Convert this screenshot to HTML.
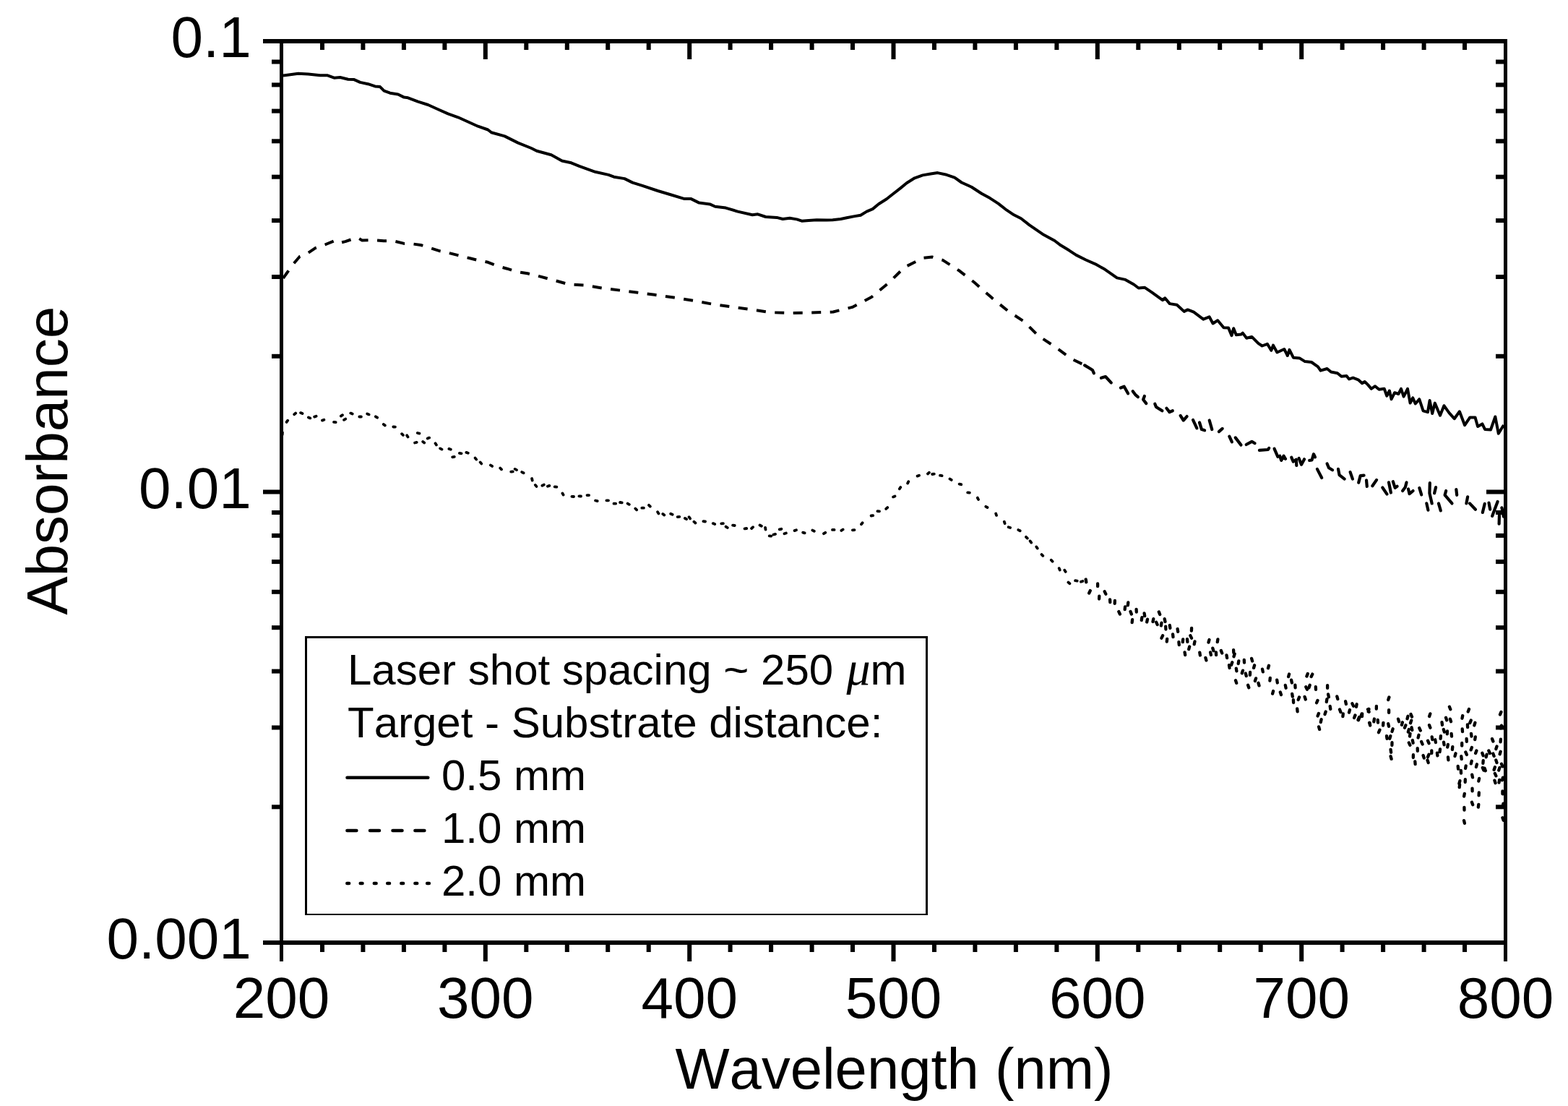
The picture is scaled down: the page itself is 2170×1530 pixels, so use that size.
<!DOCTYPE html>
<html><head><meta charset="utf-8"><title>Absorbance vs Wavelength</title><style>
html,body{margin:0;padding:0;background:#fff;width:2170px;height:1530px;overflow:hidden}
svg{display:block}
text{font-family:"Liberation Sans",Arial,sans-serif;fill:#000;font-kerning:none;font-feature-settings:"kern" 0}
.mu{font-family:"Liberation Serif","Times New Roman",serif;font-style:italic}
</style></head><body>
<svg width="2170" height="1530" viewBox="0 0 2170 1530">
<rect x="0" y="0" width="2170" height="1530" fill="#fff"/>
<g fill="#000">
<rect x="364.0" y="54.0" width="1722.0" height="6.0"/>
<rect x="364.0" y="1301.0" width="1722.0" height="6.0"/>
<rect x="387.0" y="54.0" width="5.0" height="1276.0"/>
<rect x="2081.0" y="54.0" width="5.0" height="1276.0"/>
<rect x="376.0" y="489.8" width="11.0" height="6.0"/>
<rect x="2070.0" y="489.8" width="11.0" height="6.0"/>
<rect x="376.0" y="380.0" width="11.0" height="6.0"/>
<rect x="2070.0" y="380.0" width="11.0" height="6.0"/>
<rect x="376.0" y="302.1" width="11.0" height="6.0"/>
<rect x="2070.0" y="302.1" width="11.0" height="6.0"/>
<rect x="376.0" y="241.7" width="11.0" height="6.0"/>
<rect x="2070.0" y="241.7" width="11.0" height="6.0"/>
<rect x="376.0" y="192.3" width="11.0" height="6.0"/>
<rect x="2070.0" y="192.3" width="11.0" height="6.0"/>
<rect x="376.0" y="150.6" width="11.0" height="6.0"/>
<rect x="2070.0" y="150.6" width="11.0" height="6.0"/>
<rect x="376.0" y="114.4" width="11.0" height="6.0"/>
<rect x="2070.0" y="114.4" width="11.0" height="6.0"/>
<rect x="376.0" y="82.5" width="11.0" height="6.0"/>
<rect x="2070.0" y="82.5" width="11.0" height="6.0"/>
<rect x="376.0" y="1113.3" width="11.0" height="6.0"/>
<rect x="2070.0" y="1113.3" width="11.0" height="6.0"/>
<rect x="376.0" y="1003.5" width="11.0" height="6.0"/>
<rect x="2070.0" y="1003.5" width="11.0" height="6.0"/>
<rect x="376.0" y="925.6" width="11.0" height="6.0"/>
<rect x="2070.0" y="925.6" width="11.0" height="6.0"/>
<rect x="376.0" y="865.2" width="11.0" height="6.0"/>
<rect x="2070.0" y="865.2" width="11.0" height="6.0"/>
<rect x="376.0" y="815.8" width="11.0" height="6.0"/>
<rect x="2070.0" y="815.8" width="11.0" height="6.0"/>
<rect x="376.0" y="774.1" width="11.0" height="6.0"/>
<rect x="2070.0" y="774.1" width="11.0" height="6.0"/>
<rect x="376.0" y="737.9" width="11.0" height="6.0"/>
<rect x="2070.0" y="737.9" width="11.0" height="6.0"/>
<rect x="376.0" y="706.0" width="11.0" height="6.0"/>
<rect x="2070.0" y="706.0" width="11.0" height="6.0"/>
<rect x="364.0" y="677.5" width="23.0" height="6.0"/>
<rect x="2057.0" y="677.5" width="24.0" height="6.0"/>
<rect x="443.0" y="60.0" width="6.0" height="9.0"/>
<rect x="443.0" y="1307.0" width="6.0" height="10.0"/>
<rect x="499.4" y="60.0" width="6.0" height="9.0"/>
<rect x="499.4" y="1307.0" width="6.0" height="10.0"/>
<rect x="555.9" y="60.0" width="6.0" height="9.0"/>
<rect x="555.9" y="1307.0" width="6.0" height="10.0"/>
<rect x="612.4" y="60.0" width="6.0" height="9.0"/>
<rect x="612.4" y="1307.0" width="6.0" height="10.0"/>
<rect x="668.8" y="60.0" width="6.0" height="22.0"/>
<rect x="668.8" y="1307.0" width="6.0" height="23.0"/>
<rect x="725.3" y="60.0" width="6.0" height="9.0"/>
<rect x="725.3" y="1307.0" width="6.0" height="10.0"/>
<rect x="781.8" y="60.0" width="6.0" height="9.0"/>
<rect x="781.8" y="1307.0" width="6.0" height="10.0"/>
<rect x="838.2" y="60.0" width="6.0" height="9.0"/>
<rect x="838.2" y="1307.0" width="6.0" height="10.0"/>
<rect x="894.7" y="60.0" width="6.0" height="9.0"/>
<rect x="894.7" y="1307.0" width="6.0" height="10.0"/>
<rect x="951.2" y="60.0" width="6.0" height="22.0"/>
<rect x="951.2" y="1307.0" width="6.0" height="23.0"/>
<rect x="1007.6" y="60.0" width="6.0" height="9.0"/>
<rect x="1007.6" y="1307.0" width="6.0" height="10.0"/>
<rect x="1064.1" y="60.0" width="6.0" height="9.0"/>
<rect x="1064.1" y="1307.0" width="6.0" height="10.0"/>
<rect x="1120.6" y="60.0" width="6.0" height="9.0"/>
<rect x="1120.6" y="1307.0" width="6.0" height="10.0"/>
<rect x="1177.0" y="60.0" width="6.0" height="9.0"/>
<rect x="1177.0" y="1307.0" width="6.0" height="10.0"/>
<rect x="1233.5" y="60.0" width="6.0" height="22.0"/>
<rect x="1233.5" y="1307.0" width="6.0" height="23.0"/>
<rect x="1290.0" y="60.0" width="6.0" height="9.0"/>
<rect x="1290.0" y="1307.0" width="6.0" height="10.0"/>
<rect x="1346.4" y="60.0" width="6.0" height="9.0"/>
<rect x="1346.4" y="1307.0" width="6.0" height="10.0"/>
<rect x="1402.9" y="60.0" width="6.0" height="9.0"/>
<rect x="1402.9" y="1307.0" width="6.0" height="10.0"/>
<rect x="1459.4" y="60.0" width="6.0" height="9.0"/>
<rect x="1459.4" y="1307.0" width="6.0" height="10.0"/>
<rect x="1515.8" y="60.0" width="6.0" height="22.0"/>
<rect x="1515.8" y="1307.0" width="6.0" height="23.0"/>
<rect x="1572.3" y="60.0" width="6.0" height="9.0"/>
<rect x="1572.3" y="1307.0" width="6.0" height="10.0"/>
<rect x="1628.8" y="60.0" width="6.0" height="9.0"/>
<rect x="1628.8" y="1307.0" width="6.0" height="10.0"/>
<rect x="1685.2" y="60.0" width="6.0" height="9.0"/>
<rect x="1685.2" y="1307.0" width="6.0" height="10.0"/>
<rect x="1741.7" y="60.0" width="6.0" height="9.0"/>
<rect x="1741.7" y="1307.0" width="6.0" height="10.0"/>
<rect x="1798.2" y="60.0" width="6.0" height="22.0"/>
<rect x="1798.2" y="1307.0" width="6.0" height="23.0"/>
<rect x="1854.6" y="60.0" width="6.0" height="9.0"/>
<rect x="1854.6" y="1307.0" width="6.0" height="10.0"/>
<rect x="1911.1" y="60.0" width="6.0" height="9.0"/>
<rect x="1911.1" y="1307.0" width="6.0" height="10.0"/>
<rect x="1967.6" y="60.0" width="6.0" height="9.0"/>
<rect x="1967.6" y="1307.0" width="6.0" height="10.0"/>
<rect x="2024.0" y="60.0" width="6.0" height="9.0"/>
<rect x="2024.0" y="1307.0" width="6.0" height="10.0"/>
</g>
<g font-size="80">
<text x="347.8" y="78.6" text-anchor="end">0.1</text>
<text x="347.8" y="703.0" text-anchor="end">0.01</text>
<text x="347.8" y="1326.4" text-anchor="end">0.001</text>
<text x="389.5" y="1407.9" text-anchor="middle">200</text>
<text x="671.8" y="1407.9" text-anchor="middle">300</text>
<text x="954.2" y="1407.9" text-anchor="middle">400</text>
<text x="1236.5" y="1407.9" text-anchor="middle">500</text>
<text x="1518.8" y="1407.9" text-anchor="middle">600</text>
<text x="1801.2" y="1407.9" text-anchor="middle">700</text>
<text x="2083.5" y="1407.9" text-anchor="middle">800</text>
<text x="1237.5" y="1506.0" text-anchor="middle" font-size="79.6">Wavelength (nm)</text>
<text transform="translate(93.3,637.3) rotate(-90)" x="0" y="0" text-anchor="middle">Absorbance</text>
</g>
<defs><clipPath id="pc"><rect x="392" y="60" width="1689" height="1241"/></clipPath></defs>
<g clip-path="url(#pc)" fill="none" stroke="#000" stroke-linejoin="round">
<polyline points="391.9,104.6 401.6,103.2 412.7,101.8 426.5,102.5 443.1,104.2 452.7,104.2 462.4,107.7 470.7,107.0 481.8,109.7 490.1,110.1 498.4,113.9 509.4,116.2 519.1,119.4 526.0,120.1 531.5,125.6 539.8,128.7 550.9,130.5 559.2,134.6 564.7,135.3 578.6,140.6 592.4,145.0 606.2,151.2 620.0,157.4 633.9,162.3 647.7,168.5 661.5,174.7 675.3,179.5 680.0,183.3 698.4,188.4 716.9,197.6 735.3,205.0 742.7,208.7 762.9,214.2 777.7,222.5 790.6,225.3 801.7,229.9 823.8,237.8 842.2,241.9 849.6,244.7 864.3,247.1 875.4,252.6 888.3,256.6 910.4,264.0 928.8,269.5 947.3,275.1 956.5,275.1 967.6,280.6 982.3,282.4 989.7,285.8 1004.4,287.6 1021.0,292.6 1041.3,297.2 1048.7,296.3 1059.7,300.0 1075.0,300.9 1083.3,303.0 1093.0,301.8 1102.7,303.4 1109.6,305.7 1119.2,305.0 1130.3,304.3 1144.1,304.6 1152.4,304.3 1163.5,303.0 1171.8,301.3 1182.8,299.1 1191.1,297.7 1199.4,292.6 1207.7,289.1 1216.0,282.2 1227.1,275.3 1234.0,269.8 1246.4,260.1 1254.7,253.2 1265.8,246.3 1276.9,242.4 1287.9,240.5 1297.6,239.1 1310.0,241.8 1321.1,245.6 1330.8,252.5 1344.6,258.7 1358.4,267.7 1370.0,274.1 1381.6,281.6 1393.2,290.7 1403.2,297.3 1413.1,302.3 1424.7,311.4 1443.0,323.9 1459.6,333.0 1467.9,339.3 1479.5,346.3 1489.4,352.9 1502.7,359.5 1516.0,365.3 1529.3,372.8 1545.8,384.4 1557.5,386.9 1569.1,393.5 1575.7,398.5 1584.0,397.7 1594.0,404.3 1608.9,415.1 1612.2,412.3 1618.8,420.1 1628.8,421.7 1638.7,430.9 1643.7,428.4 1652.0,431.7 1665.3,441.7 1673.6,438.3 1678.6,447.5 1685.2,443.3 1693.5,453.3 1700.0,453.4 1704.5,464.1 1707.2,454.3 1710.8,463.2 1718.0,462.4 1719.8,460.6 1725.2,467.7 1732.4,465.9 1741.3,474.9 1746.7,478.5 1753.9,475.8 1759.3,484.8 1762.0,477.6 1767.4,487.5 1777.3,483.0 1781.8,492.0 1784.5,483.9 1789.9,494.7 1798.8,495.6 1806.0,500.1 1815.0,501.0 1824.0,507.3 1827.6,512.7 1836.6,510.0 1842.0,514.5 1851.0,516.3 1856.4,520.8 1863.5,519.9 1867.1,524.4 1872.5,522.6 1879.7,525.3 1885.1,530.3 1888.7,528.0 1893.2,532.4 1897.7,537.8 1903.1,534.2 1908.5,538.7 1915.7,537.8 1919.3,547.7 1922.9,540.5 1925.6,552.2 1930.1,543.2 1935.4,545.0 1939.0,537.8 1942.6,548.6 1948.0,537.8 1951.6,557.6 1955.2,550.4 1958.8,558.5 1964.2,552.2 1969.6,568.4 1975.9,570.2 1978.6,554.0 1982.2,572.0 1985.8,557.6 1993.0,574.7 1998.4,561.2 2005.5,571.1 2012.7,579.2 2019.9,569.3 2027.1,588.2 2034.3,577.4 2041.5,577.4 2045.1,590.0 2051.4,586.4 2055.0,593.9 2063.0,594.5 2069.3,576.5 2073.8,599.8 2081.0,588.0" stroke-width="4"/>
<polyline points="392.0,385.0 395.0,380.5 404.9,366.4 414.9,354.8 426.5,349.8 436.4,343.2 449.7,338.5 464.6,332.4 471.3,335.7 477.9,334.1 487.9,330.7 494.5,328.6 501.1,332.4 517.7,332.1 531.0,333.2 544.3,333.2 559.2,336.9 570.8,337.4 582.4,339.0 595.7,343.2 609.0,347.3 620.6,349.8 633.8,353.1 650.4,357.3 663.7,360.6 675.3,362.8 688.6,368.1 701.9,371.7 715.1,376.0 730.1,378.3 741.7,381.0 759.9,385.8 786.4,393.2 809.7,394.6 836.2,399.0 860.2,401.9 882.6,404.8 905.9,407.8 932.4,411.5 960.6,416.1 985.5,420.6 1012.0,424.4 1039.4,428.1 1066.8,432.2 1091.7,433.0 1123.2,432.5 1153.0,431.5 1179.6,424.9 1206.1,411.0 1230.2,391.0 1251.7,369.8 1277.4,356.9 1290.0,355.5 1304.8,359.9 1328.0,374.8 1348.8,391.0 1372.8,412.1 1395.2,430.4 1416.8,444.5 1437.3,464.8 1458.9,478.9 1482.1,496.0 1497.5,503.5" stroke-width="4" stroke-dasharray="13 12.5"/>
<g stroke-width="4.2" stroke-linecap="round">
<polyline points="1501.2,505.4 1507.2,509.0 1512.0,512.0 1513.8,516.2"/>
<polyline points="1524.0,522.8 1530.0,521.0 1537.7,529.4"/>
<polyline points="1550.9,536.5 1555.7,534.7 1561.1,544.3"/>
<polyline points="1567.7,541.3 1571.3,546.1 1574.9,549.1"/>
<polyline points="1583.9,547.9 1582.1,552.7 1586.3,558.1"/>
<polyline points="1598.3,558.7 1600.0,562.9 1608.4,568.3"/>
<polyline points="1614.4,564.7 1618.6,570.1 1622.8,568.3"/>
<polyline points="1633.6,574.9 1637.8,581.5 1642.6,576.1"/>
<polyline points="1651.0,580.9 1656.4,592.3"/>
<polyline points="1660.0,584.5 1663.0,594.1 1667.1,595.3"/>
<polyline points="1673.7,581.5 1677.3,594.1"/>
<polyline points="1686.9,597.1 1691.7,592.9"/>
<polyline points="1701.3,603.6 1704.9,611.4"/>
<polyline points="1709.7,605.4 1717.5,615.6"/>
<polyline points="1724.7,615.0 1732.4,610.8 1736.6,613.2"/>
<polyline points="1742.9,622.8 1754.9,622.0 1756.2,619.9"/>
<polyline points="1763.6,620.8 1768.4,631.9"/>
<polyline points="1771.1,630.7 1773.2,636.9 1776.5,630.7 1779.0,634.8"/>
<polyline points="1787.3,632.8 1789.8,638.6 1793.9,635.7 1794.3,644.0"/>
<polyline points="1797.6,634.0 1801.0,642.7 1805.1,635.3"/>
<polyline points="1812.2,636.9 1815.5,636.5 1818.0,628.2 1820.0,632.3"/>
<polyline points="1822.9,648.9 1829.2,661.0"/>
<polyline points="1836.6,641.5 1839.1,647.3 1844.1,650.2"/>
<polyline points="1852.0,648.9 1853.6,657.2 1860.7,662.6"/>
<polyline points="1868.6,653.1 1871.9,662.6"/>
<polyline points="1880.2,667.6 1882.7,658.1 1887.6,657.6"/>
<polyline points="1891.0,664.3 1891.8,673.0"/>
<polyline points="1899.3,672.2 1905.1,663.9"/>
<polyline points="1913.3,674.5 1919.5,683.6"/>
<polyline points="1922.0,667.4 1924.9,681.5"/>
<polyline points="1927.8,666.2 1930.7,674.9 1933.6,672.8"/>
<polyline points="1946.5,667.4 1944.8,674.1 1941.1,679.0"/>
<polyline points="1949.0,676.5 1950.6,683.2 1955.6,679.0"/>
<polyline points="1964.3,674.9 1967.2,684.4"/>
<polyline points="1978.8,668.2 1978.4,682.3 1981.7,696.4"/>
<polyline points="1987.1,674.1 1985.1,682.3"/>
<polyline points="1974.3,696.4 1976.4,705.6"/>
<polyline points="1990.9,696.4 1993.8,706.4"/>
<polyline points="2001.2,679.0 1999.6,684.8 2009.5,696.4"/>
<polyline points="2015.3,677.0 2016.2,684.8"/>
<polyline points="2031.1,687.3 2029.4,696.4"/>
<polyline points="2034.0,696.4 2041.9,704.7"/>
<polyline points="2054.7,696.9 2051.8,708.9"/>
<polyline points="2060.5,695.6 2062.2,704.7"/>
<polyline points="2065.1,713.9 2070.1,700.6 2072.6,694.0"/>
<polyline points="2075.1,708.1 2074.6,724.7"/>
<polyline points="2078.4,702.3 2080.9,714.7"/>
</g>
</g>
<g clip-path="url(#pc)" stroke="#000" stroke-linecap="round" fill="none">
<path stroke-width="3.8" d="M390.7 601.1L390.9 598.5M396.6 583.9L398.2 581.7M407.2 573.2L409.2 571.6M416.1 571.1L418.5 572.1M426.9 577.4L429.3 578.4M435.2 576.6L437.6 575.8M446.0 581.6L448.4 580.8M462.0 583.8L464.6 584.2M471.8 575.6L474.0 574.2M476.0 580.8L478.2 579.6M485.3 571.6L487.7 572.6M497.3 576.5L499.9 576.5M508.2 572.4L510.6 573.4M519.9 576.3L522.1 577.7M530.8 587.0L532.8 588.6M544.3 590.5L546.9 590.7M556.1 600.2L557.9 602.0M563.1 602.3L564.5 604.5M574.1 612.5L576.7 611.9M577.8 599.0L580.4 599.6M585.2 610.9L587.2 612.5M591.7 606.6L594.1 605.6M602.5 613.3L603.9 615.5M609.1 620.4L611.5 621.6M621.4 620.9L623.8 621.7M626.2 632.3L628.8 631.9M635.9 626.9L638.5 627.3M645.4 625.9L647.8 626.7M657.6 633.6L659.2 635.6M664.6 639.4L666.2 641.4M678.9 643.5L681.1 644.9M692.2 647.5L694.0 649.3M707.2 652.6L709.8 652.4M712.6 648.9L715.0 650.1M722.2 653.1L724.6 654.3M736.1 662.0L736.7 664.6M740.8 670.9L742.4 672.9M750.4 671.8L752.8 670.6M757.9 672.7L760.3 671.9M767.7 673.3L770.3 673.7M778.4 682.4L779.6 684.6M791.4 686.8L794.0 687.0M801.4 686.3L804.0 686.5M812.5 685.1L815.1 685.1M824.1 692.5L826.7 693.1M839.4 692.3L842.0 692.3M849.5 696.7L852.1 696.7M858.1 695.0L860.7 695.4M868.6 696.6L870.8 697.8M879.3 703.5L881.1 705.3M888.3 702.7L890.9 702.7M898.0 698.8L899.8 700.6M910.1 708.2L911.5 710.4M917.3 710.9L919.3 712.5M928.2 710.8L930.6 711.8M937.7 715.1L940.3 714.9M947.9 717.0L950.1 718.2M953.5 715.2L955.1 717.4M960.4 721.7L962.4 723.5M973.4 721.1L976.0 721.5M986.8 724.1L989.2 725.1M998.3 724.4L1000.9 724.2M1004.6 728.6L1006.8 730.0M1014.1 726.6L1016.7 727.0M1030.6 731.4L1033.2 731.0M1040.1 731.0L1042.1 729.2M1051.5 726.5L1053.9 727.7M1059.1 729.9L1059.5 732.5M1064.7 741.4L1067.3 741.6M1070.5 739.5L1073.1 738.9M1078.8 732.4L1081.4 731.8M1085.5 738.3L1087.9 737.5M1099.6 734.1L1102.0 733.3M1111.2 736.6L1113.6 737.4M1124.4 733.6L1126.8 734.8M1140.0 738.2L1142.2 736.8M1152.0 732.9L1154.6 732.9M1164.4 733.9L1166.6 732.5M1179.9 733.3L1182.5 733.1M1192.0 725.3L1193.6 723.3M1205.6 713.5L1208.2 713.1M1214.4 707.1L1217.0 707.3M1226.2 703.9L1228.2 702.1M1236.1 687.4L1238.5 686.4M1244.9 676.3L1246.3 674.1M1256.1 668.6L1257.3 666.2M1269.6 658.6L1272.0 657.8M1283.9 655.4L1285.9 653.8M1290.2 656.0L1292.8 655.6M1301.0 657.7L1303.6 658.1M1314.5 662.5L1316.7 663.9M1327.6 669.6L1330.2 670.2M1339.2 681.3L1341.8 681.7M1352.8 688.6L1354.0 691.0M1364.3 700.8L1366.5 702.0M1378.2 710.5L1379.0 712.9M1389.8 721.7L1390.6 724.1M1395.7 729.2L1398.1 730.0M1409.3 733.1L1411.7 734.3M1420.0 742.8L1421.8 744.6M1425.6 748.4L1427.2 750.6M1434.3 756.4L1435.7 758.6M1441.5 767.0L1443.3 768.8M1454.8 774.7L1456.6 776.7M1465.7 786.1L1466.7 788.5M1473.3 788.7L1474.7 790.9M1478.4 805.6L1480.4 807.2M1488.1 803.2L1490.7 803.6M1496.0 804.8L1498.4 804.0"/>
<path stroke-width="4.3" d="M1502.7 801.5L1503.3 805.3M1508.8 817.1L1507.2 820.5M1519.1 807.4L1519.1 811.2M1521.3 824.7L1521.1 828.5M1528.7 818.3L1530.3 821.7M1536.1 829.3L1536.3 833.1M1542.9 831.0L1542.7 834.8M1548.3 846.1L1549.9 849.5M1557.1 839.3L1556.7 843.1M1561.3 833.5L1560.9 837.3M1564.5 846.0L1565.9 849.6M1567.1 857.2L1566.7 861.0M1572.6 842.9L1572.8 846.7M1580.4 854.2L1579.8 858.0M1583.6 848.4L1584.2 852.2M1588.0 856.7L1587.2 860.5M1596.3 856.2L1595.5 860.0M1600.1 860.7L1601.7 864.1M1603.8 846.4L1605.2 850.0M1607.5 861.7L1606.9 865.5M1609.1 879.3L1607.5 882.7M1611.7 856.2L1612.5 860.0M1613.2 866.7L1613.4 870.5M1615.2 883.8L1614.8 887.6M1618.8 865.0L1619.4 868.8M1623.1 877.4L1623.5 881.2M1629.6 870.0L1630.2 873.8M1631.4 888.2L1631.8 892.0M1637.2 884.4L1636.8 888.2M1639.6 902.3L1640.2 906.1M1643.0 884.1L1643.4 887.9M1646.2 894.5L1645.2 898.1M1647.4 879.3L1649.0 882.7M1649.1 868.8L1648.9 872.6M1653.5 887.4L1652.7 891.2M1660.3 902.7L1660.9 906.5M1668.4 909.9L1669.4 913.5M1673.5 885.0L1672.5 888.6M1675.1 902.4L1675.9 906.0M1678.3 896.6L1679.3 900.2M1682.9 902.3L1683.1 906.1M1685.4 884.4L1684.8 888.2M1689.8 899.9L1691.2 903.5M1697.5 906.4L1698.1 910.2M1701.0 920.2L1701.6 924.0M1705.3 916.3L1704.1 919.9M1707.1 899.1L1707.3 902.9M1708.7 904.6L1707.5 908.2M1710.0 941.3L1711.2 944.9M1710.8 924.6L1711.4 928.4M1714.3 914.3L1713.7 918.1M1720.0 927.6L1718.8 931.2M1721.8 912.8L1722.0 916.6M1723.8 931.5L1724.8 935.1M1727.1 947.7L1728.3 951.3M1730.1 930.0L1729.9 933.8M1732.1 910.9L1733.1 914.5M1736.1 920.3L1735.1 923.9M1738.1 938.4L1736.9 942.0M1741.5 944.8L1742.5 948.4M1747.0 925.6L1747.8 929.4M1756.0 920.7L1755.0 924.3M1757.8 937.8L1757.4 941.6M1762.1 956.0L1761.1 959.6M1767.2 940.7L1767.8 944.5M1771.8 957.5L1773.0 961.1M1778.8 947.9L1779.6 951.7M1784.1 932.5L1783.1 936.1M1787.1 940.7L1787.9 944.5M1788.2 959.9L1788.8 963.7M1789.9 968.2L1790.1 972.0M1792.4 947.6L1792.6 951.4M1795.2 980.5L1795.6 984.3M1798.1 964.4L1796.7 968.0M1805.6 963.9L1806.8 967.5M1807.3 950.3L1808.9 953.7M1809.8 932.0L1808.4 935.6M1812.7 947.7L1811.5 951.3M1816.3 932.6L1814.7 936.0M1820.8 950.1L1821.0 953.9M1823.5 968.9L1822.1 972.3M1825.0 986.9L1823.6 990.5M1825.1 1005.4L1826.1 1009.0M1828.6 995.2L1827.8 999.0M1834.7 984.5L1833.5 988.1M1836.4 967.2L1835.8 971.0M1837.1 948.1L1837.1 951.9M1838.1 960.4L1838.9 964.2M1840.7 977.0L1841.3 980.8M1850.3 963.4L1851.3 967.0M1854.0 981.5L1855.4 985.1M1858.8 987.3L1858.4 991.1M1862.1 970.2L1862.9 974.0M1868.0 982.0L1867.0 985.6M1871.4 973.3L1873.0 976.7M1875.5 989.4L1874.1 993.0M1877.6 974.1L1877.0 977.9M1880.9 992.3L1879.5 995.9M1881.3 992.7L1880.0 996.2M1884.6 987.4L1883.3 991.0M1885.2 987.3L1885.0 991.1M1893.0 981.3L1894.6 984.7M1894.5 980.8L1893.7 984.5M1895.1 999.8L1896.2 1003.5M1895.6 999.8L1896.2 1003.6M1901.9 994.5L1901.3 998.3M1904.9 976.9L1904.8 980.7M1906.7 995.8L1907.0 999.6M1909.5 1009.7L1908.0 1013.2M1914.4 999.8L1914.1 1003.5M1919.0 1018.1L1919.5 1021.8M1921.2 1001.1L1922.0 1004.8M1922.4 964.5L1921.2 968.1M1922.1 982.1L1922.1 985.9M1924.3 1018.1L1923.3 1021.8M1924.6 1037.0L1925.1 1040.8M1924.6 1046.2L1925.6 1049.9M1926.5 1027.2L1926.4 1031.0M1927.6 1008.3L1926.5 1012.0M1935.0 994.6L1936.1 998.2M1940.9 999.2L1939.9 1002.8M1945.4 1003.2L1944.0 1006.7M1948.5 990.7L1947.5 994.3M1949.8 1009.0L1948.8 1012.6M1949.8 1027.4L1951.4 1030.8M1951.5 1014.8L1951.0 1018.6M1953.2 996.6L1952.0 1000.2M1952.5 988.1L1954.0 991.6M1953.5 1006.3L1954.3 1010.0M1954.8 1024.0L1955.6 1027.7M1955.9 1044.2L1955.8 1048.0M1958.3 1053.4L1958.6 1057.2M1961.7 1035.1L1961.8 1038.9M1963.5 1016.8L1962.6 1020.5M1964.2 1007.1L1965.8 1010.6M1967.1 1026.0L1968.6 1029.5M1969.6 1045.0L1970.8 1048.6M1975.5 1051.5L1976.7 1055.1M1976.0 1024.7L1977.5 1028.2M1977.5 1043.7L1976.0 1047.2M1979.3 987.4L1978.1 991.0M1978.0 1003.1L1979.4 1006.7M1981.3 1038.3L1981.3 1042.1M1981.7 1019.4L1982.3 1023.1M1986.2 1023.3L1986.9 1027.1M1988.9 1041.6L1989.4 1045.4M1993.0 1036.4L1992.5 1040.1M1993.9 1018.1L1993.6 1021.8M1995.5 999.1L1996.0 1002.9M1997.8 1009.0L1998.9 1012.6M1998.0 1026.6L1998.6 1030.3M2001.0 992.7L2002.2 996.2M2003.0 1011.5L2002.8 1015.3M2003.9 1029.9L2003.2 1033.6M2004.0 1047.5L2004.4 1051.3M2005.9 977.7L2007.3 981.2M2006.9 994.6L2008.0 998.2M2008.6 1014.8L2009.0 1018.6M2010.3 1033.1L2009.9 1036.9M2014.5 1042.3L2013.5 1046.0M2017.7 1059.9L2018.1 1063.7M2020.4 1080.2L2019.4 1083.9M2020.1 1085.4L2019.7 1089.2M2021.8 1065.8L2022.0 1069.6M2022.3 1046.2L2022.7 1050.0M2023.2 1027.9L2023.2 1031.7M2024.2 990.0L2023.5 993.7M2023.7 1008.3L2024.0 1012.0M2026.8 1097.8L2026.1 1101.6M2026.4 1116.8L2026.5 1120.6M2026.0 1135.1L2026.9 1138.8M2027.8 1078.2L2027.7 1082.0M2028.7 1059.3L2028.1 1063.0M2028.3 1040.4L2029.8 1043.9M2029.6 1022.0L2029.8 1025.8M2030.9 1002.4L2031.1 1006.2M2033.0 980.9L2031.7 984.5M2035.7 996.6L2034.2 1000.1M2036.0 1014.8L2036.5 1018.6M2036.9 1033.9L2035.6 1037.4M2036.7 1052.8L2035.8 1056.4M2037.2 1071.7L2038.0 1075.4M2037.5 1090.6L2037.6 1094.4M2036.9 1109.7L2038.2 1113.3M2041.4 999.8L2040.3 1003.5M2041.8 1019.4L2041.2 1023.1M2043.4 1038.4L2042.1 1042.0M2043.9 1057.3L2042.9 1061.0M2046.3 1112.9L2045.8 1116.6M2047.1 1076.9L2046.3 1080.6M2046.8 1096.5L2046.6 1100.3M2051.3 1041.7L2052.6 1045.3M2052.7 1052.1L2052.4 1055.8M2051.8 1062.0L2053.4 1065.5M2054.6 1062.6L2055.8 1066.2M2057.6 1043.6L2056.7 1047.3M2060.3 1038.5L2061.9 1042.0M2065.0 1022.1L2066.4 1025.6M2066.3 1042.4L2067.6 1045.9M2068.9 1061.3L2067.6 1064.9M2068.4 1079.6L2069.5 1083.2M2068.8 1069.9L2070.4 1073.3M2071.5 1032.5L2070.3 1036.1M2070.3 1051.5L2071.5 1055.1M2075.4 1061.9L2074.2 1065.6M2075.1 1078.9L2074.5 1082.6M2076.7 1039.7L2075.6 1043.3M2077.5 984.9L2076.0 988.4M2076.9 1022.6L2076.6 1026.4M2077.9 1003.7L2076.9 1007.4M2078.0 1056.8L2079.5 1060.3M2079.9 1075.6L2078.9 1079.3M2079.4 1094.5L2079.4 1098.3M2080.4 1111.6L2079.7 1115.3M2079.4 1131.3L2080.7 1134.8"/>
</g>
<g fill="#000">
<rect x="422.0" y="880.0" width="862.0" height="3.0"/>
<rect x="422.0" y="1264.0" width="862.0" height="2.0"/>
<rect x="422.0" y="880.0" width="3.0" height="386.0"/>
<rect x="1281.0" y="880.0" width="3.0" height="386.0"/>
</g>
<g stroke="#000" stroke-width="4.5" stroke-linecap="round" fill="none">
<line x1="480.5" y1="1075.7" x2="592.3" y2="1075.7"/>
<line x1="480.4" y1="1149" x2="493.4" y2="1149"/>
<line x1="512.0" y1="1149" x2="525.0" y2="1149"/>
<line x1="543.5" y1="1149" x2="556.5" y2="1149"/>
<line x1="574.4" y1="1149" x2="587.4" y2="1149"/>
<line x1="480.3" y1="1222" x2="483.1" y2="1222"/>
<line x1="498.7" y1="1222" x2="501.5" y2="1222"/>
<line x1="517.8" y1="1222" x2="520.6" y2="1222"/>
<line x1="536.2" y1="1222" x2="539.0" y2="1222"/>
<line x1="555.3" y1="1222" x2="558.1" y2="1222"/>
<line x1="574.4" y1="1222" x2="577.2" y2="1222"/>
<line x1="591.1" y1="1222" x2="593.9" y2="1222"/>
</g>
<g font-size="60">
<text x="481.0" y="947.2">Laser shot spacing ~ 250 <tspan class="mu" x="1171.5" font-size="66">μ</tspan><tspan x="1204.5">m</tspan></text>
<text x="481.0" y="1020.2">Target - Substrate distance:</text>
<text x="611.0" y="1093.1">0.5 mm</text>
<text x="611.0" y="1166.1">1.0 mm</text>
<text x="611.0" y="1239.1">2.0 mm</text>
</g>
</svg>
</body></html>
